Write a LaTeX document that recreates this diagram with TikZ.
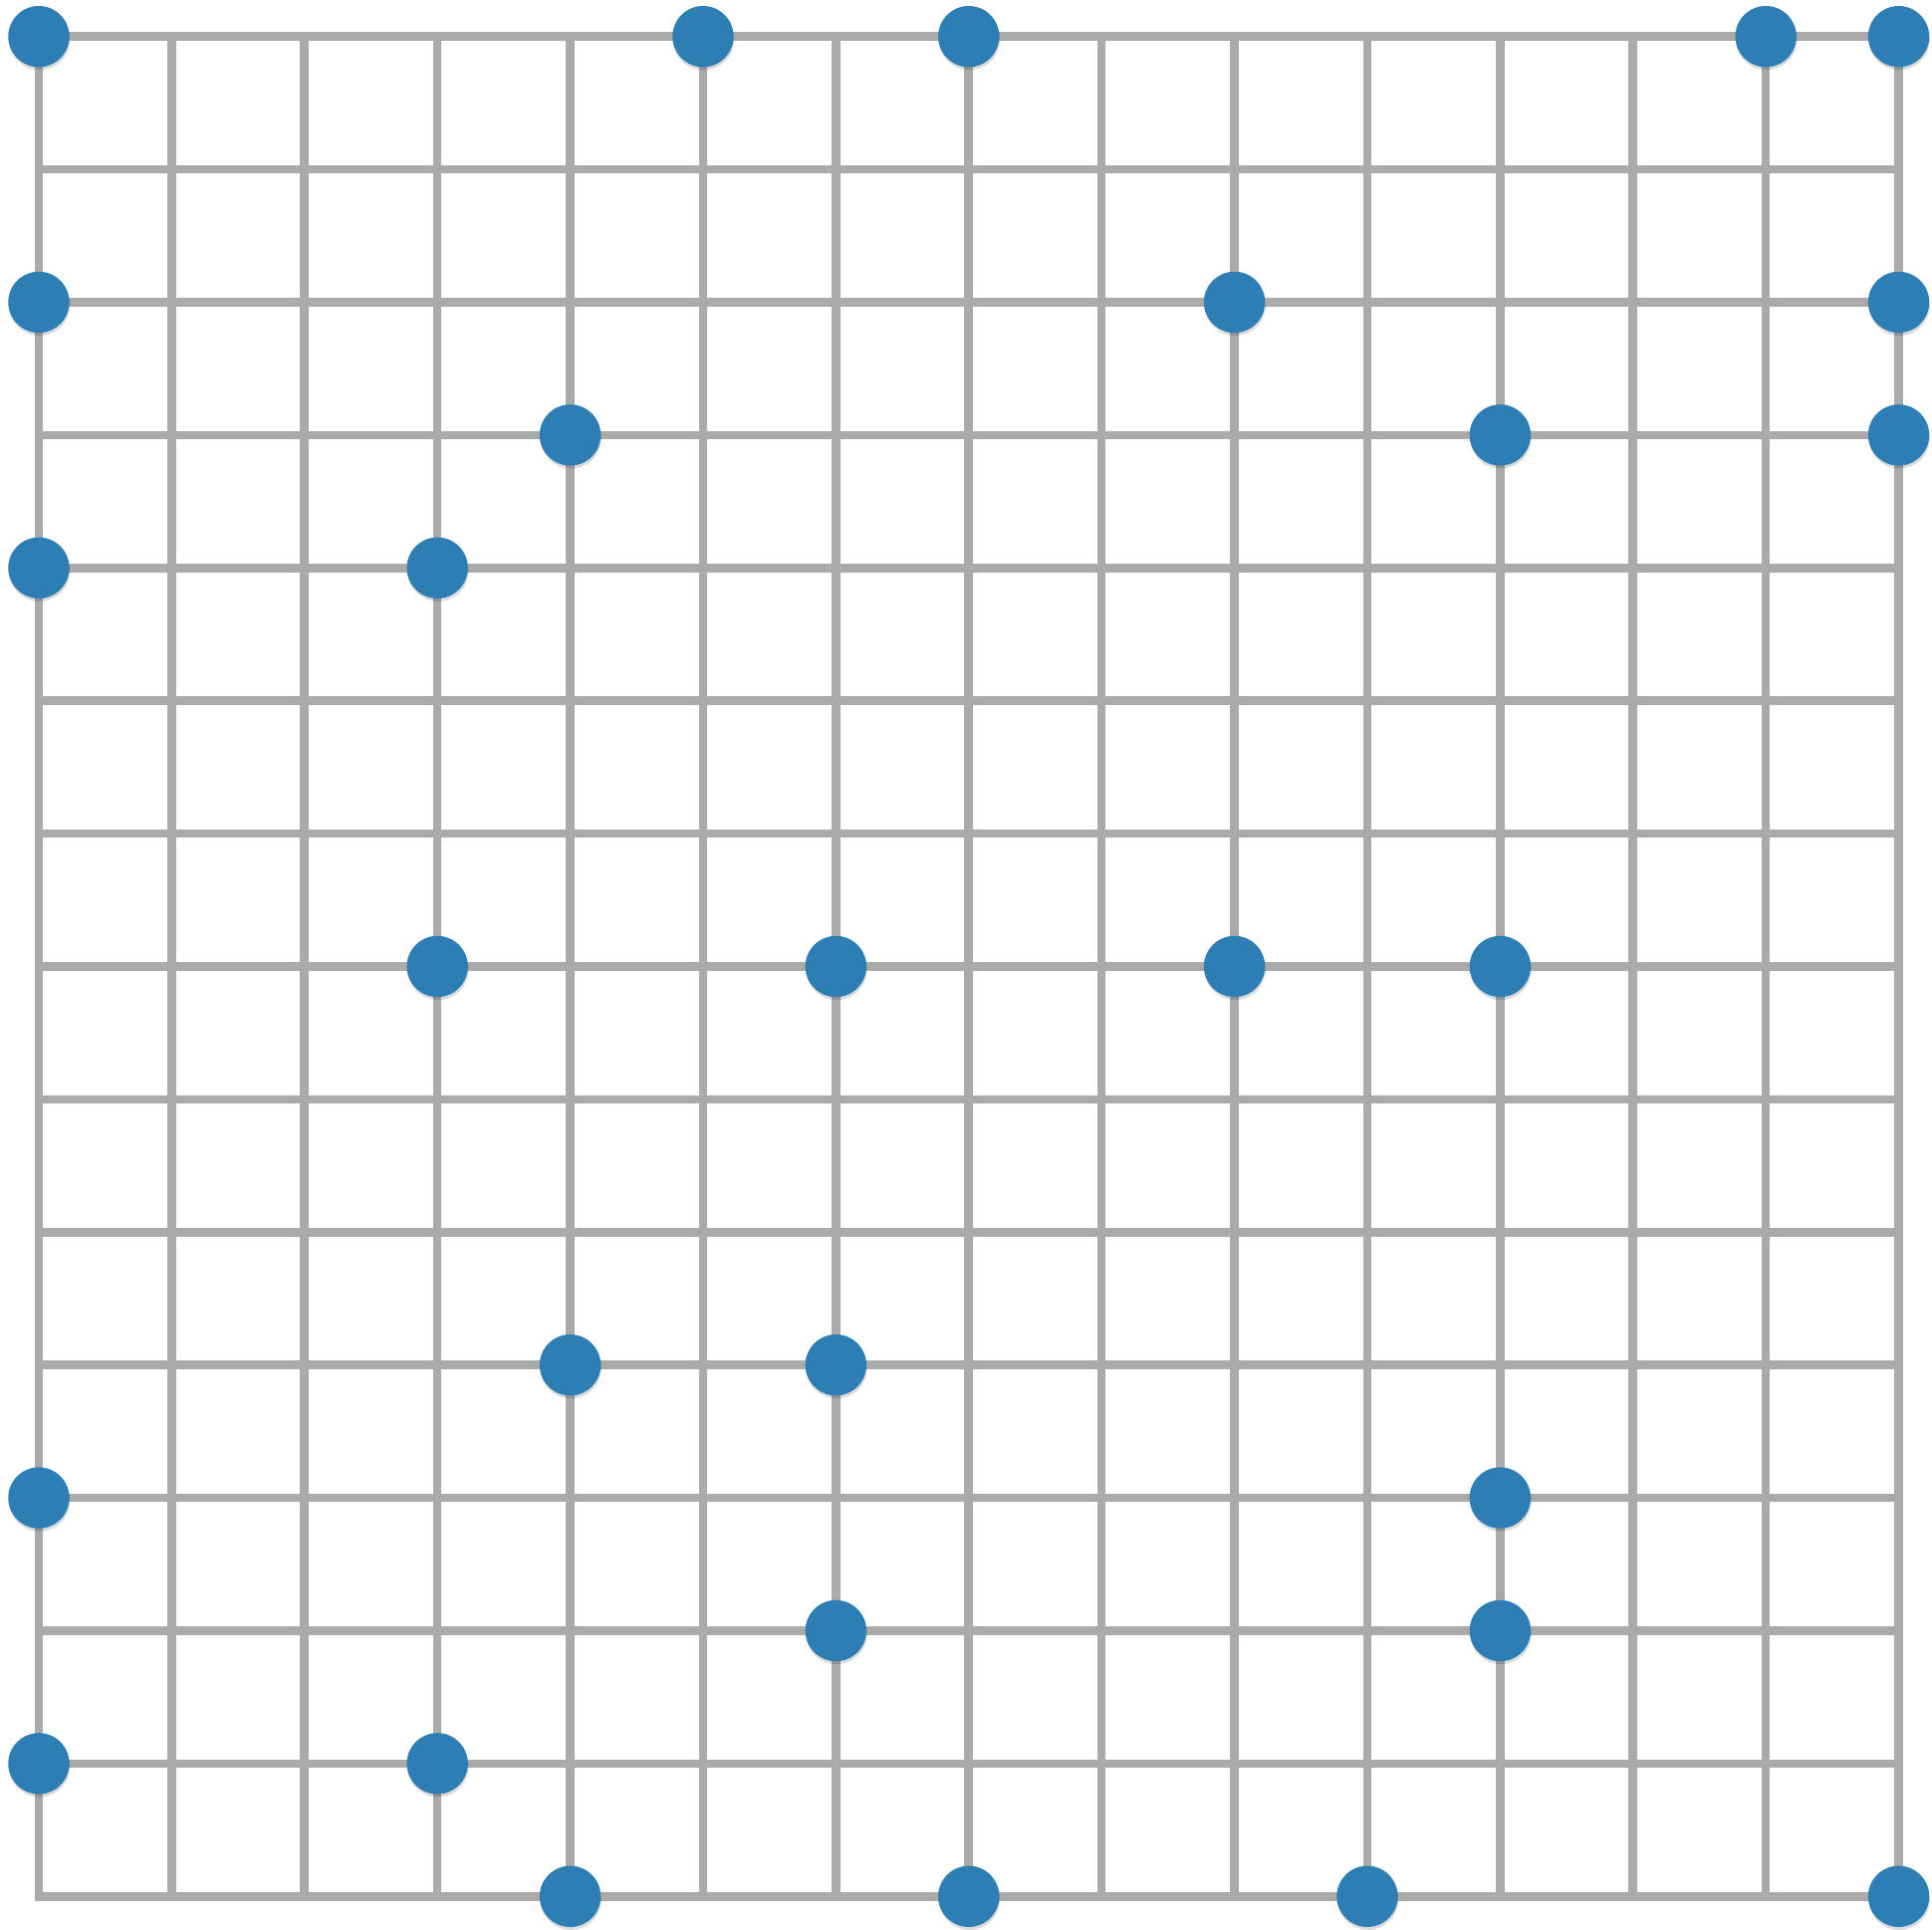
\documentclass[tikz,border=0pt]{standalone}
\usepackage{tikz}
\usetikzlibrary{shadows}
\definecolor{gridgray}{HTML}{AAAAAA}
\definecolor{dotblue}{HTML}{2C7EB4}

\begin{document}
\begin{tikzpicture}[
  gridline/.style={draw=gridgray, line width=0.065cm, line cap=rect},
  dot/.style={circle, fill=dotblue, minimum size=0.46cm, inner sep=0pt,
              drop shadow={shadow xshift=0.005cm, shadow yshift=-0.022cm,
                           opacity=0.14, fill=black}}]

%% Page frame (keeps the margins of the reference)
\useasboundingbox (-0.292,-0.247) rectangle (14.251,14.275);

%% 14 x 14 grid
\foreach \i in {0,...,14}{
  \draw[gridline] (\i,0) -- (\i,14);
  \draw[gridline] (0,\i) -- (14,\i);
}

%% Occupied points (column/row, row counted from the top)
\foreach \c/\r in {0/0,5/0,7/0,13/0,14/0,
                   0/2,9/2,14/2,
                   4/3,11/3,14/3,
                   0/4,3/4,
                   3/7,6/7,9/7,11/7,
                   4/10,6/10,
                   0/11,11/11,
                   6/12,11/12,
                   0/13,3/13,
                   4/14,7/14,10/14,14/14}{
  \node[dot] (p-\c-\r) at (\c,14-\r) {};
}
\end{tikzpicture}
\end{document}
